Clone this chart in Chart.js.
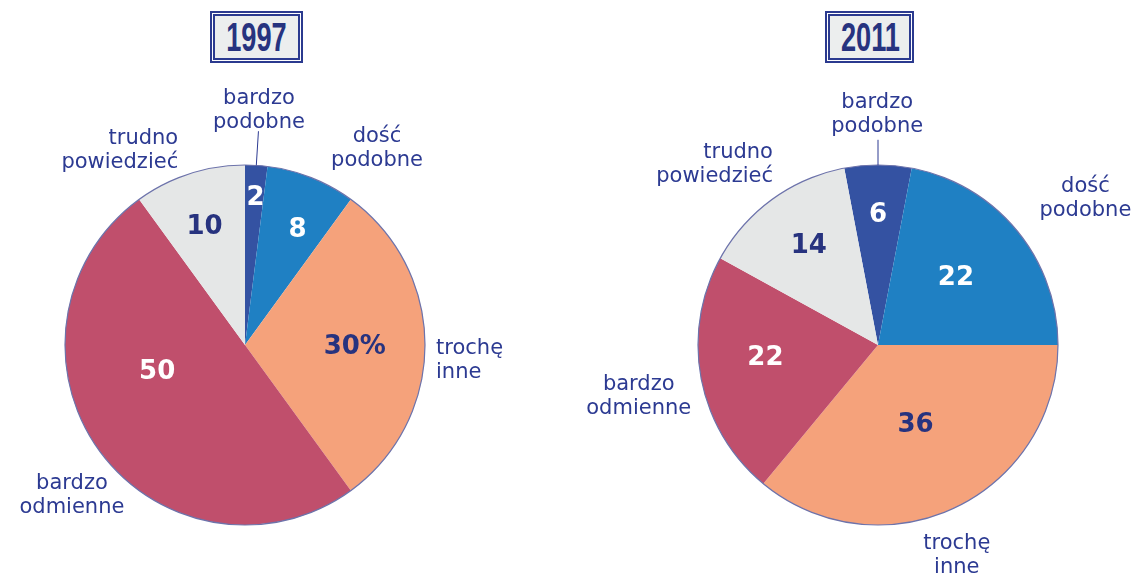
<!DOCTYPE html>
<html>
<head>
<meta charset="utf-8">
<script src="https://cdn.jsdelivr.net/npm/chart.js@4"></script>
<style>
  html, body { margin: 0; padding: 0; background: #fff; }
  #wrap { position: relative; width: 1144px; height: 574px; overflow: hidden; }
  canvas { position: absolute; top: 0; }
  #c1997 { left: 0; }
  #c2011 { left: 572px; }
  .year {
    position: absolute; top: 11px; height: 48px;
    border: 2px solid #2b3a8f;
    box-shadow: inset 0 0 0 1px #fff, inset 0 0 0 3px #2b3a8f;
    background: #eceeee;
    color: #27337f;
    font: bold 40px "Liberation Sans", sans-serif;
    line-height: 48px; text-align: center;
  }
  .year span { display: inline-block; transform: scaleX(0.68); }
</style>
</head>
<body>
<div id="wrap">
  <canvas id="c1997" width="572" height="574"></canvas>
  <canvas id="c2011" width="572" height="574"></canvas>
  <div class="year" style="left:210px;width:89px;"><span>1997</span></div>
  <div class="year" style="left:825px;width:85px;"><span>2011</span></div>
</div>
<script>
// Categories and values (percent)
const categories = ['bardzo podobne', 'dość podobne', 'trochę inne', 'bardzo odmienne', 'trudno powiedzieć'];
const values1997 = [2, 8, 30, 50, 10];
const values2011 = [6, 22, 36, 22, 14];

const sliceColors = ['#3452a2', '#1f80c3', '#f5a27b', '#c04f6c', '#e5e7e7'];
const valueColors = ['#ffffff', '#ffffff', '#27337f', '#ffffff', '#27337f'];
const textColor = '#2c3a92';

// label placement: [angle from top (deg, clockwise), radius factor, align]
const labelPos1997 = [[3.4, 1.306, 'center'], [33.9, 1.315, 'center'], [94.8, 1.065, 'left'], [228.9, 1.276, 'center'], [341, 1.14, 'right']];
const labelPos2011 = [[-0.2, 1.28, 'center'], [54.8, 1.41, 'center'], [159.5, 1.25, 'center'], [257.8, 1.36, 'center'], [329.8, 1.16, 'right']];
// value placement: [radius factor, angle offset from slice middle (deg)]
const valuePos1997 = [[0.82, 0.5], [0.70, 3], [0.61, 1], [0.51, 19], [0.69, -1]];
const valuePos2011 = [[0.72, 0], [0.57, -1], [0.49, 0], [0.63, 4], [0.67, 1]];

const pieLabels = {
    id: 'pieLabels',
    afterDatasetsDraw(chart, args, opts) {
        const ctx = chart.ctx;
        const arcs = chart.getDatasetMeta(0).data;
        const values = chart.data.datasets[0].data;
        const cx = arcs[0].x, cy = arcs[0].y, R = arcs[0].outerRadius;
        ctx.save();

        // outer rim
        ctx.beginPath();
        ctx.arc(cx, cy, R, 0, Math.PI * 2);
        ctx.strokeStyle = '#6d73ab';
        ctx.lineWidth = 1.2;
        ctx.stroke();

        // leader line for the first slice
        const a0 = (arcs[0].startAngle + arcs[0].endAngle) / 2;
        ctx.beginPath();
        ctx.moveTo(cx + Math.cos(a0) * R, cy + Math.sin(a0) * R);
        ctx.lineTo(cx + Math.cos(a0) * R * opts.leader, cy + Math.sin(a0) * R * opts.leader);
        ctx.strokeStyle = textColor;
        ctx.lineWidth = 1;
        ctx.stroke();

        // values inside slices
        ctx.textAlign = 'center';
        ctx.textBaseline = 'middle';
        arcs.forEach((arc, i) => {
            const p = opts.valuePos[i];
            const mid = (arc.startAngle + arc.endAngle) / 2 + p[1] * Math.PI / 180;
            const x = cx + Math.cos(mid) * R * p[0];
            const y = cy + Math.sin(mid) * R * p[0];
            ctx.fillStyle = valueColors[i];
            ctx.font = 'bold 26px "DejaVu Sans", sans-serif';
            const txt = values[i] + (i === opts.percentAt ? '%' : '');
            ctx.fillText(txt, x, y);
        });

        // category labels
        ctx.font = '21px "DejaVu Sans", sans-serif';
        ctx.fillStyle = textColor;
        chart.data.labels.forEach((lab, i) => {
            const p = opts.labelPos[i];
            const ang = (p[0] - 90) * Math.PI / 180;
            const x = cx + Math.cos(ang) * R * p[1];
            const y = cy + Math.sin(ang) * R * p[1];
            ctx.textAlign = p[2];
            const lines = lab.split(' ');
            lines.forEach((ln, k) => {
                ctx.fillText(ln, x, y + (k - (lines.length - 1) / 2) * 24);
            });
        });
        ctx.restore();
    }
};

function makePie(id, values, rotation, padding, labelPos, valuePos, leader, percentAt) {
    return new Chart(document.getElementById(id), {
        type: 'pie',
        data: {
            labels: categories,
            datasets: [{
                data: values,
                backgroundColor: sliceColors,
                borderWidth: 0
            }]
        },
        options: {
            responsive: false,
            animation: false,
            rotation: rotation,
            layout: { padding: padding },
            plugins: {
                legend: { display: false },
                tooltip: { enabled: false },
                pieLabels: { labelPos: labelPos, valuePos: valuePos, leader: leader, percentAt: percentAt }
            }
        },
        plugins: [pieLabels]
    });
}

makePie('c1997', values1997, 0, { left: 65, right: 147, top: 165, bottom: 49 }, labelPos1997, valuePos1997, 1.19, 2);
makePie('c2011', values2011, -10.8, { left: 126, right: 86, top: 165, bottom: 49 }, labelPos2011, valuePos2011, 1.14, -1);
</script>
</body>
</html>
